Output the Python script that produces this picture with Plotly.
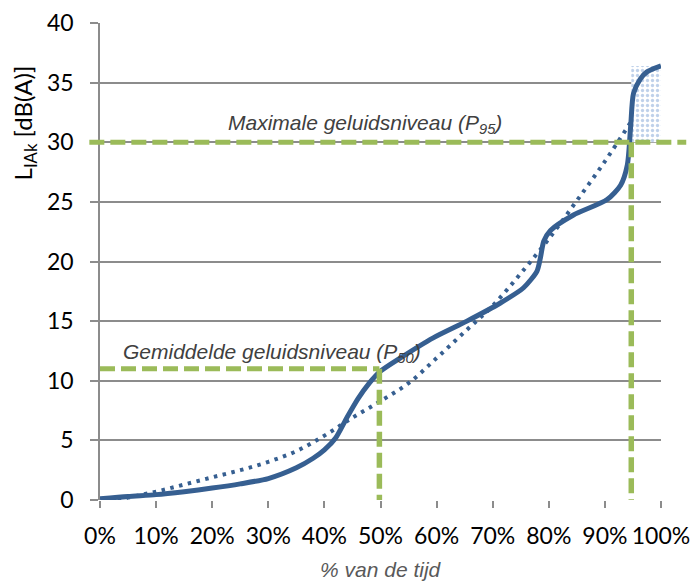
import plotly.graph_objects as go

# Measured curve (% of time vs level)
curve_x = [0, 5, 10, 15, 20, 25, 30, 35, 38, 40, 42, 44, 46, 48, 50, 53.5, 59.4, 65.4,
           71.3, 75.5, 77.9, 78.5, 79.1, 80.3, 84.4, 90.4, 92.8, 94.0, 94.6, 95.1, 96.3, 97.5, 100]
curve_y = [0.1, 0.3, 0.45, 0.7, 1.0, 1.35, 1.8, 2.7, 3.5, 4.2, 5.2, 6.9, 8.5, 9.8, 10.8, 11.9, 13.6, 15.0,
           16.5, 17.8, 19.2, 20.3, 21.7, 22.6, 23.9, 25.2, 26.4, 28.1, 31.4, 34.1, 35.3, 35.9, 36.4]

# Trend line (dotted)
trend_x = [0, 5, 10, 15, 20, 25, 30, 35, 40, 45, 50, 55, 60, 65, 70, 75, 80, 85, 90, 94.5]
trend_y = [-0.3, 0.2, 0.7, 1.3, 1.9, 2.5, 3.2, 4.1, 5.4, 6.9, 8.3, 9.8, 11.9, 14.1, 16.3, 19.0, 21.9, 25.1, 28.4, 31.6]

x_ticks = [0, 10, 20, 30, 40, 50, 60, 70, 80, 90, 100]
x_ticklabels = [f"{v}%" for v in x_ticks]
y_ticks = [0, 5, 10, 15, 20, 25, 30, 35, 40]

p50_x, p50_y = 49.8, 11
p95_x, p95_y = 94.7, 30
hatch_top = 36.4

blue = "#365F91"
green = "#9BBB59"
grey = "#8C8C8C"

fig = go.Figure()

# hatched region
fig.add_trace(go.Scatter(
    x=[p95_x, 100, 100, p95_x, p95_x], y=[p95_y, p95_y, hatch_top, hatch_top, p95_y],
    mode="lines", line=dict(width=0), fill="toself", fillcolor="rgba(0,0,0,0)",
    fillpattern=dict(shape=".", fgcolor="#7FA3D6", bgcolor="white", size=5, solidity=0.35),
    hoverinfo="skip", showlegend=False))

fig.add_trace(go.Scatter(x=trend_x, y=trend_y, mode="lines", line=dict(color=blue, width=4, dash="3.5px,5.5px", shape="spline"),
                         showlegend=False))
fig.add_trace(go.Scatter(x=curve_x, y=curve_y, mode="lines", line=dict(color=blue, width=5, shape="spline", smoothing=0.7),
                         showlegend=False))

dash = "15px,6px"
# P95 lines
fig.add_shape(type="line", xref="paper", yref="y", x0=-0.019, x1=1.045, y0=p95_y, y1=p95_y,
              line=dict(color=green, width=5, dash=dash))
fig.add_shape(type="line", xref="x", yref="y", x0=p95_x, x1=p95_x, y0=p95_y, y1=0,
              line=dict(color=green, width=5.5, dash=dash))
# P50 lines
fig.add_shape(type="line", xref="x", yref="y", x0=0, x1=p50_x, y0=p50_y, y1=p50_y,
              line=dict(color=green, width=5, dash=dash))
fig.add_shape(type="line", xref="x", yref="y", x0=p50_x, x1=p50_x, y0=p50_y, y1=0,
              line=dict(color=green, width=5.5, dash=dash))

ann_font = dict(family="Liberation Sans, Arial", size=21, color="#404040")
fig.add_annotation(x=47.2, y=31.5, xref="x", yref="y", text="<i>Maximale geluidsniveau (P<sub>95</sub>)</i>",
                   showarrow=False, font=ann_font, xanchor="center", yanchor="middle")
fig.add_annotation(x=3.8, y=12.3, xref="x", yref="y", text="<i>Gemiddelde geluidsniveau (P<sub>50</sub>)</i>",
                   showarrow=False, font=ann_font, xanchor="left", yanchor="middle")
fig.add_annotation(x=0.5, y=-0.145, xref="paper", yref="paper", text="<i>% van de tijd</i>",
                   showarrow=False, font=dict(family="Liberation Sans, Arial", size=21, color="#595959"),
                   xanchor="center", yanchor="middle")
fig.add_annotation(x=-0.135, y=0.79, xref="paper", yref="paper", text="L<sub>IAk</sub>&nbsp;[dB(A)]",
                   showarrow=False, textangle=-90, font=dict(family="Lato", size=24, color="black"),
                   xanchor="center", yanchor="middle")

fig.update_layout(
    width=692, height=582,
    margin=dict(l=100, r=31, t=23, b=82, autoexpand=False),
    paper_bgcolor="white", plot_bgcolor="white",
    xaxis=dict(range=[0, 100], tickvals=x_ticks, ticktext=x_ticklabels, showgrid=False, automargin=False,
               showline=False, ticks="outside", ticklen=7, tickcolor=grey, tickwidth=1.5,
               tickfont=dict(family="Lato", size=23, color="black"), ticklabelstandoff=8, zeroline=False),
    yaxis=dict(range=[0, 40], tickvals=y_ticks, showgrid=True, gridcolor=grey, gridwidth=1.5, automargin=False,
               showline=True, linecolor=grey, linewidth=1.5, ticks="outside", ticklen=8, tickcolor=grey, tickwidth=1.5,
               tickfont=dict(family="Lato", size=23, color="black"), ticklabelstandoff=12, zeroline=False),
)

fig.write_html("out.html", config={"displayModeBar": False},
               post_script="document.body.style.margin='0';document.body.style.overflow='hidden';")
